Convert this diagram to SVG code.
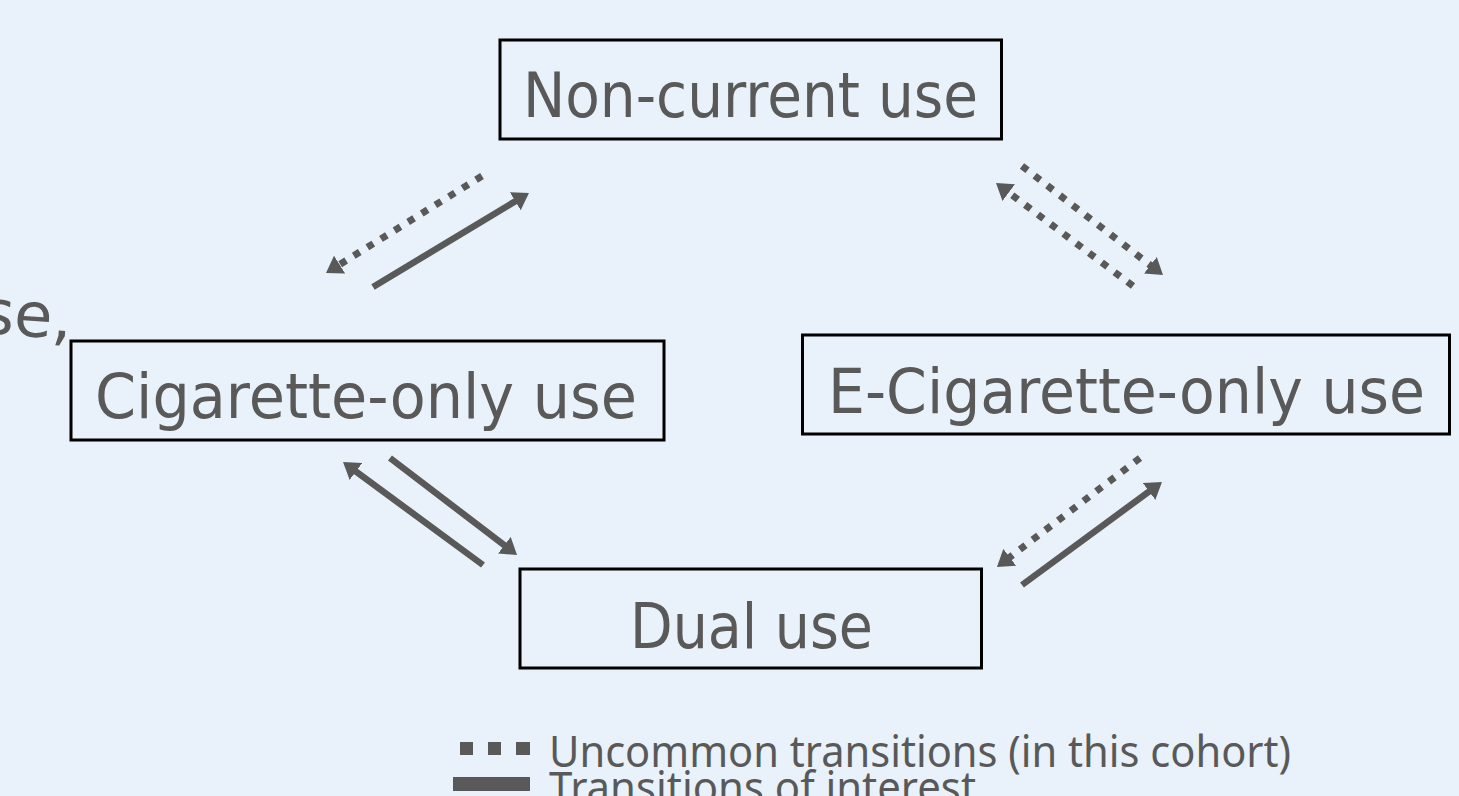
<svg xmlns="http://www.w3.org/2000/svg" width="1459" height="796" viewBox="0 0 1459 796">
<defs>
<style>
.box{fill:none;stroke:#000;stroke-width:3}
.lbl{font-family:"DejaVu Sans","Liberation Sans",sans-serif;font-size:62px;fill:#595959}
.leg{font-family:"Noto Sans","Liberation Sans",sans-serif;font-size:43px;fill:#595959}
.solid{stroke:#595959;stroke-width:6.5;fill:none;marker-end:url(#ah)}
.dot{stroke:#595959;stroke-width:7;fill:none;stroke-dasharray:7 9;marker-end:url(#ah)}
</style>
<marker id="ah" markerUnits="userSpaceOnUse" markerWidth="16" markerHeight="21" refX="4" refY="10.5" orient="auto" viewBox="0 0 16 21">
<path d="M0,0 L16,10.5 L0,21 z" fill="#595959"/>
</marker>
</defs>
<rect width="1459" height="796" fill="#E9F1FA"/>
<text class="lbl" x="72" y="337" font-size="76" text-anchor="end" transform="rotate(4 40 320)">se,</text>
<g id="node-noncurrent">
<rect class="box" x="500" y="40" width="501.5" height="99"/>
<text class="lbl" x="523" y="117" textLength="455" lengthAdjust="spacingAndGlyphs">Non-current use</text>
</g>
<g id="node-cigarette">
<rect class="box" x="71" y="341" width="593" height="99"/>
<text class="lbl" x="95" y="418" textLength="542" lengthAdjust="spacingAndGlyphs">Cigarette-only use</text>
</g>
<g id="node-ecigarette">
<rect class="box" x="802.5" y="335" width="647" height="99"/>
<text class="lbl" x="828" y="413" textLength="597" lengthAdjust="spacingAndGlyphs">E-Cigarette-only use</text>
</g>
<g id="node-dual">
<rect class="box" x="520" y="569" width="461.5" height="99"/>
<text class="lbl" x="630" y="648" textLength="243" lengthAdjust="spacingAndGlyphs">Dual use</text>
</g>
<g id="connectors">
<line class="dot" x1="482" y1="176" x2="336.2" y2="266.7"/>
<line class="solid" x1="373" y1="287" x2="518.7" y2="199.2"/>
<line class="dot" x1="1022" y1="166" x2="1153.5" y2="267.7"/>
<line class="dot" x1="1133" y1="286" x2="1005.6" y2="190.2"/>
<line class="solid" x1="483" y1="565" x2="352.7" y2="469.1"/>
<line class="solid" x1="390" y1="458" x2="507.5" y2="547.7"/>
<line class="dot" x1="1140" y1="458" x2="1006.5" y2="559.7"/>
<line class="solid" x1="1022" y1="585" x2="1152.3" y2="489.1"/>
</g>
<g id="legend">
<rect x="460" y="742" width="13" height="13" fill="#595959"/>
<rect x="488" y="742" width="13" height="13" fill="#595959"/>
<rect x="516" y="742" width="14" height="13" fill="#595959"/>
<rect x="453" y="777" width="77" height="14" fill="#595959"/>
<text class="leg" x="549" y="767" textLength="742" lengthAdjust="spacingAndGlyphs">Uncommon transitions (in this cohort)</text>
<text class="leg" x="549" y="803" textLength="427" lengthAdjust="spacingAndGlyphs">Transitions of interest</text>
</g>
</svg>
